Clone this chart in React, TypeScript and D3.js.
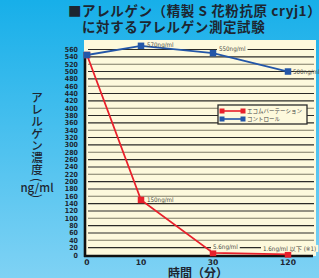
import { useRef, useEffect } from "react";
import * as d3 from "d3";

// data
const minutes = [0, 10, 30, 120];
const minuteLabels = ["0", "10", "30", "120"];
const ecomValues = [545, 150, 5.6, 1.6];
const controlValues = [545, 570, 550, 500];
const yTicks = d3.range(0, 561, 20);
const seriesNames = ["エコムバーテーション", "コントロール"];
const titleLines = ["■アレルゲン（精製 S 花粉抗原 cryj1）", "に対するアレルゲン測定試験"];
const yTitleChars = ["ア", "レ", "ル", "ゲ", "ン", "濃", "度"];
const yTitleUnit = "ng/ml";
const xTitle = "時間（分）";
const ecomNotes = ["", "150ng/ml", "5.6ng/ml", "1.6ng/ml 以下 (※1)"];
const controlNotes = ["", "570ng/ml", "550ng/ml", "500ng/ml"];

// label placement relative to its point: [dx, dy, background]
const ecomNoteLayout: [number, number, boolean][] = [[0, 0, false], [6, 0, false], [0, -6, true], [-25, -6, true]];
const controlNoteLayout: [number, number, boolean][] = [[0, 0, false], [6, -1, false], [6, -4, true], [5, 0, false]];

const W = 319;
const H = 278;
const RED = "#e8202b";
const BLUE = "#2356a8";
const CREAM = "#fdf9dc";
const INK = "#1d2631";

export default function App() {
  const svgRef = useRef<SVGSVGElement>(null);

  useEffect(() => {
    const svg = d3.select(svgRef.current);
    svg.selectAll("*").remove();

    const defs = svg.append("defs");
    const grad = defs.append("linearGradient").attr("id", "bg").attr("x1", 0).attr("y1", 0).attr("x2", 0).attr("y2", 1);
    grad.append("stop").attr("offset", "0%").attr("stop-color", "#17afe9");
    grad.append("stop").attr("offset", "100%").attr("stop-color", "#7fd2f4");
    svg.append("rect").attr("width", W).attr("height", H).attr("fill", "url(#bg)");

    const left = 84;
    const right = 316;
    const top = 40;
    const bottom = 256;

    const x = d3.scaleLinear().domain(minutes).range([87, 141, 213, 288]);
    const y = d3.scaleLinear().domain([0, 560]).range([255, 49.5]);

    svg.append("rect").attr("x", left).attr("y", top).attr("width", right - left).attr("height", bottom - top).attr("fill", CREAM);

    // title
    svg.selectAll(".title")
      .data(titleLines)
      .join("text")
      .attr("x", (_, i) => (i === 0 ? 68 : 82))
      .attr("y", (_, i) => (i === 0 ? 16 : 32))
      .attr("font-family", "'Noto Sans CJK JP'")
      .attr("font-weight", 700)
      .attr("font-size", 13.5)
      .attr("letter-spacing", 0.6)
      .attr("fill", INK)
      .text((d) => d);

    // grid lines
    svg.append("g")
      .selectAll("line")
      .data(yTicks.filter((t) => t > 0))
      .join("line")
      .attr("x1", 88)
      .attr("x2", right - 2)
      .attr("y1", (d) => y(d))
      .attr("y2", (d) => y(d))
      .attr("stroke", (_, i) => (i % 3 === 1 ? "#7d7a66" : "#2b2b28"))
      .attr("stroke-width", 1.1);

    // y tick labels
    svg.append("g")
      .selectAll("text")
      .data(yTicks)
      .join("text")
      .attr("x", 78)
      .attr("y", (d) => y(d) + 2.5)
      .attr("text-anchor", "end")
      .attr("font-family", "'DejaVu Sans Condensed', 'DejaVu Sans'")
      .attr("font-weight", 700)
      .attr("font-size", 7)
      .attr("fill", INK)
      .text((d) => d);

    // y title, stacked vertically
    const yt = svg.append("g").attr("font-family", "'Noto Sans CJK JP'").attr("fill", INK).attr("text-anchor", "middle");
    yt.selectAll("text.ch")
      .data(yTitleChars)
      .join("text")
      .attr("class", "ch")
      .attr("x", 37)
      .attr("y", (_, i) => 102 + i * 12)
      .attr("font-size", 11.5)
      .attr("font-weight", 500)
      .text((d) => d);
    [["(", 180], [")", 196]].forEach(([p, cy]) => {
      yt.append("text")
        .attr("transform", `translate(37,${cy}) rotate(90)`)
        .attr("dominant-baseline", "central")
        .attr("font-size", 12)
        .text(p as string);
    });
    yt.append("text").attr("x", 37).attr("y", 192).attr("font-size", 11.5).attr("font-weight", 500).text(yTitleUnit);

    // axes
    svg.append("line").attr("x1", 85).attr("x2", 85).attr("y1", 52).attr("y2", bottom + 1).attr("stroke", "#111").attr("stroke-width", 2.6);
    svg.append("line").attr("x1", 84).attr("x2", 313).attr("y1", bottom).attr("y2", bottom).attr("stroke", "#111").attr("stroke-width", 2.6);

    // x tick labels
    svg.append("g")
      .selectAll("text")
      .data(minutes)
      .join("text")
      .attr("x", (d) => x(d))
      .attr("y", 265)
      .attr("text-anchor", "middle")
      .attr("font-family", "'DejaVu Sans'")
      .attr("font-weight", 700)
      .attr("font-size", 7.6)
      .attr("fill", INK)
      .text((_, i) => minuteLabels[i]);

    svg.append("text")
      .attr("x", 198)
      .attr("y", 278)
      .attr("text-anchor", "middle")
      .attr("font-family", "'Noto Sans CJK JP'")
      .attr("font-weight", 700)
      .attr("font-size", 12)
      .attr("fill", INK)
      .text(xTitle);

    // series
    const line = d3.line<number>().x((_, i) => x(minutes[i])).y((d) => y(d));
    const series = [
      { values: ecomValues, color: RED, size: 6.5 },
      { values: controlValues, color: BLUE, size: 6.5 },
    ];
    series.forEach((s) => {
      svg.append("path").attr("d", line(s.values)).attr("fill", "none").attr("stroke", s.color).attr("stroke-width", 1.8);
      svg.append("g")
        .selectAll("rect")
        .data(s.values)
        .join("rect")
        .attr("x", (_, i) => x(minutes[i]) - s.size / 2)
        .attr("y", (d) => y(d) - s.size / 2)
        .attr("width", s.size)
        .attr("height", s.size)
        .attr("fill", s.color);
    });

    // value notes
    const notes = [
      { values: ecomValues, texts: ecomNotes, layout: ecomNoteLayout },
      { values: controlValues, texts: controlNotes, layout: controlNoteLayout },
    ];
    notes.forEach((n) => {
      n.values.forEach((v, i) => {
        if (!n.texts[i]) return;
        const [dx, dy, bg] = n.layout[i];
        const tx = x(minutes[i]) + dx;
        const ty = y(v) + dy;
        const g = svg.append("g");
        const t = g.append("text")
          .attr("x", tx)
          .attr("y", ty + 2.2)
          .attr("font-family", "'DejaVu Sans Condensed', 'Noto Sans CJK JP'")
          .attr("font-size", 6.2)
          .attr("fill", "#4a4a44")
          .text(n.texts[i]);
        if (bg) {
          const w = (t.node() as SVGTextElement).getComputedTextLength();
          g.insert("rect", "text").attr("x", tx - 2).attr("y", ty - 3.5).attr("width", w + 4).attr("height", 7).attr("fill", CREAM);
        }
      });
    });

    // legend
    const lg = svg.append("g").attr("transform", "translate(218,105)");
    lg.append("rect").attr("width", 89).attr("height", 19).attr("fill", CREAM).attr("stroke", "#2b2b2b").attr("stroke-width", 1.3);
    seriesNames.forEach((name, i) => {
      const c = i === 0 ? RED : BLUE;
      const ly = 6 + i * 8;
      lg.append("line").attr("x1", 4).attr("x2", 25).attr("y1", ly).attr("y2", ly).attr("stroke", c).attr("stroke-width", 1.6);
      [4, 25].forEach((px) => {
        lg.append("rect").attr("x", px - 2.5).attr("y", ly - 2.5).attr("width", 5).attr("height", 5).attr("fill", c);
      });
      lg.append("text")
        .attr("x", 29)
        .attr("y", ly + 2)
        .attr("font-family", "'Noto Sans CJK JP'")
        .attr("font-size", 5.5)
        .attr("fill", "#444")
        .text(name);
    });
  }, []);

  return (
    <div style={{ position: "fixed", left: 0, top: 0 }}>
      <svg ref={svgRef} width={W} height={H} style={{ display: "block" }} />
    </div>
  );
}
